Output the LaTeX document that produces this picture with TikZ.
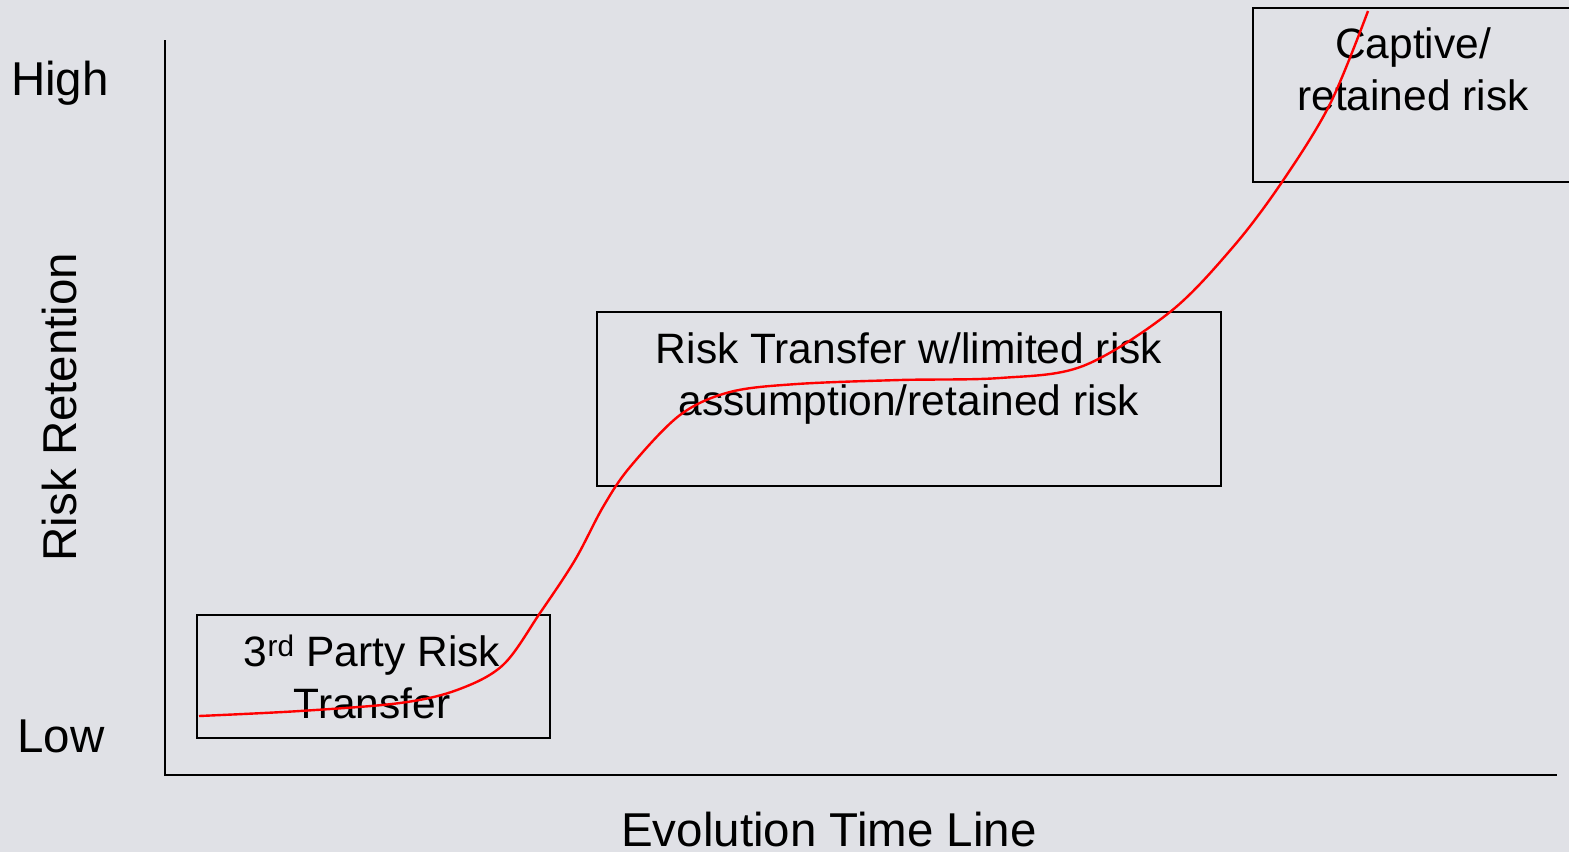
\documentclass[tikz,border=0pt]{standalone}
\usepackage{fontspec}
\setmainfont{Liberation Sans}
\definecolor{bg}{HTML}{E0E1E6}
\begin{document}
\begin{tikzpicture}[x=1pt,y=-1pt,
  axlbl/.style={font=\fontsize{47.5}{54}\selectfont, inner sep=0pt, anchor=base, text=black},
  lbl/.style={font=\fontsize{42.5}{52}\selectfont, inner sep=0pt, align=center, anchor=base, text=black},
  frame/.style={draw=black, line width=2pt},
  axis/.style={draw=black, line width=2pt}]
\fill[bg] (0,0) rectangle (1569,852);
\useasboundingbox (0,0) rectangle (1569,852);
% axes
\coordinate (top) at (165,40);
\coordinate (origin) at (165,775);
\coordinate (right) at (1557,775);
\draw[axis] (top) -- (origin) -- (right);
% boxes
\draw[frame] (197,615) rectangle (550,738);
\draw[frame] (597,312) rectangle (1221,486);
\draw[frame] (1253,8) rectangle (1575,182);
% labels
\node[axlbl] (high) at (60,95) {High};
\node[axlbl] (low) at (61,752) {Low};
\node[axlbl, rotate=90, anchor=center] (ret) at (60,407) {Risk Retention};
\node[axlbl] (evo) at (829,846) {Evolution Time Line};
\node[lbl] (t1) at (372,718) {3\textsuperscript{rd} Party Risk\\Transfer};
\node[lbl] (t2) at (909,415) {Risk Transfer w/limited risk\\assumption/retained risk};
\node[lbl] (t3) at (1413,110) {Captive/\\retained risk};
% curve
\draw[red, line width=2.4pt] plot[smooth, tension=0.55] coordinates {
 (199,716) (300,711) (400,703) (457,690) (503,665) (540,613)
 (575,560) (603,507) (630,467) (680,415) (730,392) (797,384)
 (900,380) (1000,378) (1083,366) (1170,312) (1233,247) (1282,182)
 (1330,104) (1368,11)};
\end{tikzpicture}
\end{document}
